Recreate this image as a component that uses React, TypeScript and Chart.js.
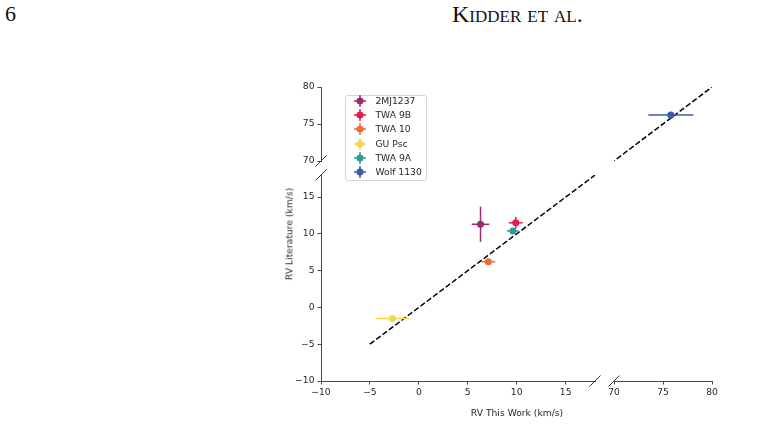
import React, { useEffect, useRef } from 'react';
import { Chart, registerables } from 'chart.js';

Chart.register(...registerables);

// ---------------- data ----------------
const starNames = ['2MJ1237', 'TWA 9B', 'TWA 10', 'GU Psc', 'TWA 9A', 'Wolf 1130'];
const starColors = ['#9b2a70', '#e8194b', '#f26a3a', '#f5d84a', '#2a9a9a', '#3a5ba8'];
const rvThisWork = [6.3, 9.9, 7.1, -2.7, 9.6, 75.8];
const rvThisWorkErr = [0.9, 0.7, 0.7, 1.7, 0.6, 2.3];
const rvLiterature = [11.3, 11.5, 6.2, -1.5, 10.4, 76.2];
const rvLiteratureErr = [2.4, 0.8, 0.3, 0.1, 0.4, 0.1];
const oneToOneX = [-5, 80];

const lowTicks = [-10, -5, 0, 5, 10, 15];
const highTicks = [70, 75, 80];
const lowRange = [-10, 18];
const highRange = [70, 80];

const xLabel = 'RV This Work (km/s)';
const yLabel = 'RV Literature (km/s)';
const pageNumber = '6';
const runningHead = 'Kidder et al.';

// ---------------- helpers ----------------
const W = 775;
const H = 441;
const Y_AXIS_W = 40;
const X_AXIS_H = 28;
const FONT = "'DejaVu Sans', sans-serif";
const TEXT = '#262626';
const SPINE = '#333333';

const fmt = (v: number) => (v < 0 ? '\u2212' + Math.abs(v) : String(v));

function buildDatasets() {
  const ds: any[] = [];
  ds.push({
    label: '1:1',
    data: oneToOneX.map((v) => ({ x: v, y: v })),
    showLine: true,
    borderColor: '#000',
    borderWidth: 1.5,
    borderDash: [5.5, 2.4],
    pointRadius: 0,
    order: 10,
  });
  starNames.forEach((name, i) => {
    const x = rvThisWork[i];
    const y = rvLiterature[i];
    const ex = rvThisWorkErr[i];
    const ey = rvLiteratureErr[i];
    const c = starColors[i];
    ds.push({
      label: name + ' xerr',
      data: [{ x: x - ex, y }, { x: x + ex, y }],
      showLine: true,
      borderColor: c,
      borderWidth: 1.5,
      pointRadius: 0,
      order: 2,
    });
    ds.push({
      label: name + ' yerr',
      data: [{ x, y: y - ey }, { x, y: y + ey }],
      showLine: true,
      borderColor: c,
      borderWidth: 1.5,
      pointRadius: 0,
      order: 2,
    });
    ds.push({
      label: name,
      data: [{ x, y }],
      pointRadius: 3.5,
      pointStyle: 'circle',
      backgroundColor: c,
      borderColor: c,
      borderWidth: 0,
      order: 1,
    });
  });
  return ds;
}

type Area = { l: number; t: number; r: number; b: number };
type PanelDef = {
  xr: number[];
  yr: number[];
  xt: number[];
  yt: number[];
  area: Area;
  showX: boolean;
  showY: boolean;
  breaks: string[];
};

const panels: PanelDef[] = [
  { xr: lowRange, yr: lowRange, xt: lowTicks, yt: lowTicks, area: { l: 321, t: 175, r: 595, b: 381 }, showX: true, showY: true, breaks: ['leftTop', 'bottomRight'] },
  { xr: lowRange, yr: highRange, xt: lowTicks, yt: highTicks, area: { l: 321, t: 87, r: 595, b: 161 }, showX: false, showY: true, breaks: ['leftBottom'] },
  { xr: highRange, yr: lowRange, xt: highTicks, yt: lowTicks, area: { l: 614, t: 175, r: 712, b: 381 }, showX: true, showY: false, breaks: ['bottomLeft'] },
  { xr: highRange, yr: highRange, xt: highTicks, yt: highTicks, area: { l: 614, t: 87, r: 712, b: 161 }, showX: false, showY: false, breaks: [] },
];

const breakPlugin = {
  id: 'breakMarks',
  afterDraw(chart: any, _args: any, opts: any) {
    const list: string[] = opts.marks || [];
    const { left, right, top, bottom } = chart.chartArea;
    const ctx = chart.ctx;
    const d = 5.5;
    ctx.save();
    ctx.strokeStyle = SPINE;
    ctx.lineWidth = 1;
    const mark = (x: number, y: number) => {
      ctx.beginPath();
      ctx.moveTo(x - d, y + d);
      ctx.lineTo(x + d, y - d);
      ctx.stroke();
    };
    list.forEach((m) => {
      if (m === 'leftTop') mark(left, top);
      if (m === 'leftBottom') mark(left, bottom);
      if (m === 'bottomRight') mark(right, bottom);
      if (m === 'bottomLeft') mark(left, bottom);
    });
    ctx.restore();
  },
};

function makeAxis(range: number[], ticks: number[], show: boolean, isX: boolean) {
  return {
    type: 'linear',
    min: range[0],
    max: range[1],
    display: show,
    position: isX ? 'bottom' : 'left',
    afterBuildTicks: (s: any) => {
      s.ticks = ticks.map((v) => ({ value: v }));
    },
    afterFit: (s: any) => {
      if (!show) {
        if (isX) s.height = 0;
        else s.width = 0;
        return;
      }
      if (isX) s.height = X_AXIS_H;
      else s.width = Y_AXIS_W;
    },
    grid: {
      display: true,
      drawOnChartArea: false,
      drawTicks: true,
      tickLength: 3.5,
      tickColor: SPINE,
      tickWidth: 0.9,
      color: SPINE,
    },
    border: { display: true, color: SPINE, width: 0.9 },
    ticks: {
      color: TEXT,
      font: { family: FONT, size: 9.2 },
      padding: 3,
      maxRotation: 0,
      autoSkip: false,
      callback: (v: any) => fmt(Number(v)),
    },
  };
}

function Panel({ def }: { def: PanelDef }) {
  const ref = useRef<HTMLCanvasElement>(null);
  useEffect(() => {
    if (!ref.current) return;
    const a = def.area;
    const chart = new Chart(ref.current, {
      type: 'scatter',
      data: { datasets: buildDatasets() },
      plugins: [breakPlugin],
      options: {
        animation: false,
        responsive: false,
        devicePixelRatio: 1,
        events: [],
        layout: {
          padding: {
            left: def.showY ? a.l - Y_AXIS_W : a.l,
            right: W - a.r,
            top: a.t,
            bottom: def.showX ? H - a.b - X_AXIS_H : H - a.b,
          },
        },
        scales: {
          x: makeAxis(def.xr, def.xt, def.showX, true),
          y: makeAxis(def.yr, def.yt, def.showY, false),
        } as any,
        plugins: {
          legend: { display: false },
          tooltip: { enabled: false },
          breakMarks: { marks: def.breaks },
        } as any,
      },
    });
    return () => chart.destroy();
  }, [def]);
  return (
    <canvas
      ref={ref}
      width={W}
      height={H}
      style={{ position: 'absolute', left: 0, top: 0, width: W, height: H, pointerEvents: 'none' }}
    />
  );
}

function LegendMarker({ color }: { color: string }) {
  return (
    <svg width={14} height={14} viewBox="-7 -7 14 14" style={{ position: 'absolute', left: 7, top: 0 }}>
      <line x1={-6} y1={0} x2={6} y2={0} stroke={color} strokeWidth={1.5} />
      <line x1={0} y1={-6} x2={0} y2={6} stroke={color} strokeWidth={1.5} />
      <circle cx={0} cy={0} r={3.5} fill={color} />
    </svg>
  );
}

export default function App() {
  return (
    <div style={{ position: 'absolute', left: 0, top: 0, width: W, height: H, background: '#fff', overflow: 'hidden' }}>
      <div
        style={{
          position: 'absolute',
          left: 5,
          top: 3,
          fontFamily: "'Liberation Serif', serif",
          fontSize: 22,
          lineHeight: '22px',
          color: '#111',
        }}
      >
        {pageNumber}
      </div>
      <div
        style={{
          position: 'absolute',
          left: 452,
          top: 2,
          fontFamily: "'Liberation Serif', serif",
          fontSize: 24,
          lineHeight: '24px',
          fontVariant: 'small-caps',
          color: '#111',
          whiteSpace: 'nowrap',
        }}
      >
        {runningHead}
      </div>

      {panels.map((p, i) => (
        <Panel key={i} def={p} />
      ))}

      <div
        style={{
          position: 'absolute',
          left: 345,
          top: 95,
          width: 82,
          height: 86,
          boxSizing: 'border-box',
          border: '1px solid #d6d6d6',
          borderRadius: 3,
          background: 'rgba(255,255,255,0.85)',
        }}
      >
        {starNames.map((n, i) => (
          <div key={n} style={{ position: 'absolute', left: 0, top: 6 + i * 14.2 - 7 - 1, height: 14, width: 80 }}>
            <LegendMarker color={starColors[i]} />
            <div
              style={{
                position: 'absolute',
                left: 29.5,
                top: 0,
                lineHeight: '14px',
                fontFamily: FONT,
                fontSize: 9.2,
                color: TEXT,
                whiteSpace: 'nowrap',
              }}
            >
              {n}
            </div>
          </div>
        ))}
      </div>

      <div
        style={{
          position: 'absolute',
          left: 517,
          top: 413,
          transform: 'translate(-50%, -50%)',
          fontFamily: FONT,
          fontSize: 9.2,
          lineHeight: 1,
          color: TEXT,
          whiteSpace: 'nowrap',
        }}
      >
        {xLabel}
      </div>
      <div
        style={{
          position: 'absolute',
          left: 289,
          top: 234,
          transform: 'translate(-50%, -50%) rotate(-90deg)',
          fontFamily: FONT,
          fontSize: 9.2,
          lineHeight: 1,
          color: TEXT,
          whiteSpace: 'nowrap',
        }}
      >
        {yLabel}
      </div>
    </div>
  );
}
